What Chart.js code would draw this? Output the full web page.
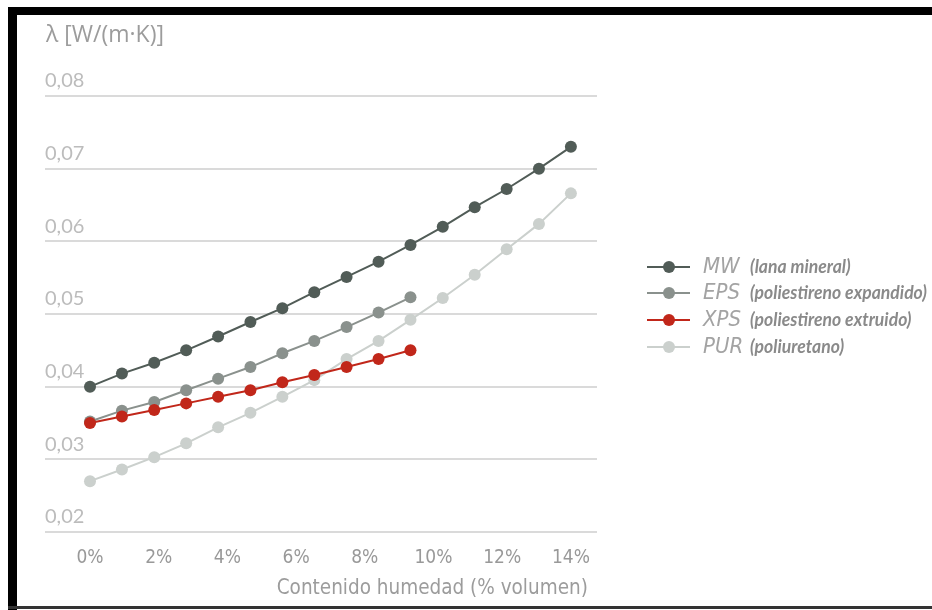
<!DOCTYPE html>
<html>
<head>
<meta charset="utf-8">
<script src="https://cdn.jsdelivr.net/npm/chart.js@4.4.1/dist/chart.umd.min.js"></script>
<style>
  html, body { margin: 0; padding: 0; background: #fff; }
  #wrap { position: relative; width: 932px; height: 610px; overflow: hidden; }
  #chart { position: absolute; left: 0; top: 0; }
  .bar { position: absolute; background: #000; }
</style>
</head>
<body>
<div id="wrap">
  <canvas id="chart" width="932" height="610"></canvas>
  <div class="bar" style="left:8px; top:7px; width:924px; height:8px;"></div>
  <div class="bar" style="left:8px; top:7px; width:9px; height:603px;"></div>
  <div class="bar" style="left:8px; top:606px; width:924px; height:3px; background:#333;"></div>
</div>
<script>
// moisture content (% volume) at each measured point
var humedad = [0, 0.93, 1.87, 2.8, 3.73, 4.67, 5.6, 6.53, 7.47, 8.4, 9.33, 10.27, 11.2, 12.13, 13.07, 14];
var xTicks = [0, 2, 4, 6, 8, 10, 12, 14];
var yTicks = [0.02, 0.03, 0.04, 0.05, 0.06, 0.07, 0.08];

var mw  = [0.0400, 0.0418, 0.0433, 0.0450, 0.0469, 0.0489, 0.0508, 0.0530, 0.0551, 0.0572, 0.0595, 0.0620, 0.0647, 0.0672, 0.0700, 0.0730];
var eps = [0.0352, 0.0367, 0.0379, 0.0395, 0.0411, 0.0427, 0.0446, 0.0463, 0.0482, 0.0502, 0.0523];
var xps = [0.0350, 0.0359, 0.0368, 0.0377, 0.0386, 0.0395, 0.0406, 0.0416, 0.0427, 0.0438, 0.0450];
var pur = [0.0270, 0.0286, 0.0303, 0.0322, 0.0344, 0.0364, 0.0386, 0.0409, 0.0438, 0.0463, 0.0492, 0.0522, 0.0554, 0.0589, 0.0624, 0.0666];

var names = ["MW", "EPS", "XPS", "PUR"];
var descriptions = ["(lana mineral)", "(poliestireno expandido)", "(poliestireno extruido)", "(poliuretano)"];
var colors = ["#515c57", "#8a918d", "#c1271a", "#cbd0cd"];

var NARROW = '"Liberation Sans Narrow", "DejaVu Sans Condensed", sans-serif';

function pairs(values) {
  return values.map(function (v, i) { return { x: humedad[i], y: v }; });
}

function series(i, values, order) {
  return {
    label: names[i],
    data: pairs(values),
    borderColor: colors[i],
    backgroundColor: colors[i],
    pointBackgroundColor: colors[i],
    pointBorderWidth: 0,
    pointRadius: 6,
    borderWidth: 2,
    tension: 0,
    order: order,
  };
}

// axis titles and the two-part legend are drawn by hand
var extras = {
  id: "extras",
  afterDraw: function (chart) {
    var ctx = chart.ctx;
    var xs = chart.scales.x;
    ctx.save();
    ctx.fillStyle = "#9c9c9c";
    ctx.textBaseline = "middle";
    ctx.font = '23px "Open Sans", sans-serif';
    ctx.textAlign = "left";
    ctx.fillText("\u03bb [W/(m\u00b7K)]", 46, 35);

    ctx.font = "20.5px " + NARROW;
    ctx.textAlign = "right";
    ctx.fillText("Contenido humedad (% volumen)", xs.getPixelForValue(14) + 17, 589);

    // squeeze the bold descriptions so the longest one ends where it does in the original
    var descFont = "italic bold 18px Lato, sans-serif";
    ctx.font = descFont;
    var widest = Math.max.apply(null, descriptions.map(function (d) { return ctx.measureText(d).width; }));
    var squeeze = Math.min(1, 177 / widest);

    var rows = [267, 293, 320, 347];
    names.forEach(function (name, i) {
      var y = rows[i];
      ctx.strokeStyle = colors[i];
      ctx.lineWidth = 2;
      ctx.beginPath();
      ctx.moveTo(647, y);
      ctx.lineTo(690, y);
      ctx.stroke();
      ctx.fillStyle = colors[i];
      ctx.beginPath();
      ctx.arc(669, y, 6, 0, Math.PI * 2);
      ctx.fill();

      ctx.textAlign = "left";
      ctx.fillStyle = "#a3a3a3";
      ctx.font = "italic 22px " + NARROW;
      ctx.fillText(name, 703, y);
      ctx.fillStyle = "#8a8a8a";
      ctx.font = descFont;
      ctx.save();
      ctx.translate(750, y);
      ctx.scale(squeeze, 1);
      ctx.fillText(descriptions[i], 0, 0);
      ctx.restore();
    });
    ctx.restore();
  },
};

new Chart(document.getElementById("chart").getContext("2d"), {
  type: "line",
  data: {
    datasets: [
      series(0, mw, 2),
      series(1, eps, 3),
      series(2, xps, 1),
      series(3, pur, 4),
    ],
  },
  options: {
    responsive: false,
    animation: false,
    layout: { padding: { left: 45, right: 335, top: 96, bottom: 0 } },
    plugins: { legend: { display: false }, tooltip: { enabled: false } },
    scales: {
      x: {
        type: "linear",
        min: -1.31,
        max: 14.76,
        afterFit: function (scale) { scale.height = 78; },
        afterBuildTicks: function (scale) {
          scale.ticks = xTicks.map(function (v) { return { value: v }; });
        },
        grid: { display: false },
        border: { display: false },
        ticks: {
          padding: 7,
          color: "#999999",
          font: { family: NARROW, size: 19 },
          callback: function (v) { return v + "%"; },
        },
      },
      y: {
        min: 0.02,
        max: 0.08,
        afterFit: function (scale) { scale.width = 0; },
        afterBuildTicks: function (scale) {
          scale.ticks = yTicks.map(function (v) { return { value: v }; });
        },
        grid: { color: "#dadada", lineWidth: 2, drawTicks: false },
        border: { display: false },
        ticks: {
          mirror: true,
          padding: 0,
          labelOffset: -15,
          color: "#bcbcbc",
          font: { family: "Lato", size: 20 },
          callback: function (v) { return v.toFixed(2).replace(".", ","); },
        },
      },
    },
  },
  plugins: [extras],
});
</script>
</body>
</html>
